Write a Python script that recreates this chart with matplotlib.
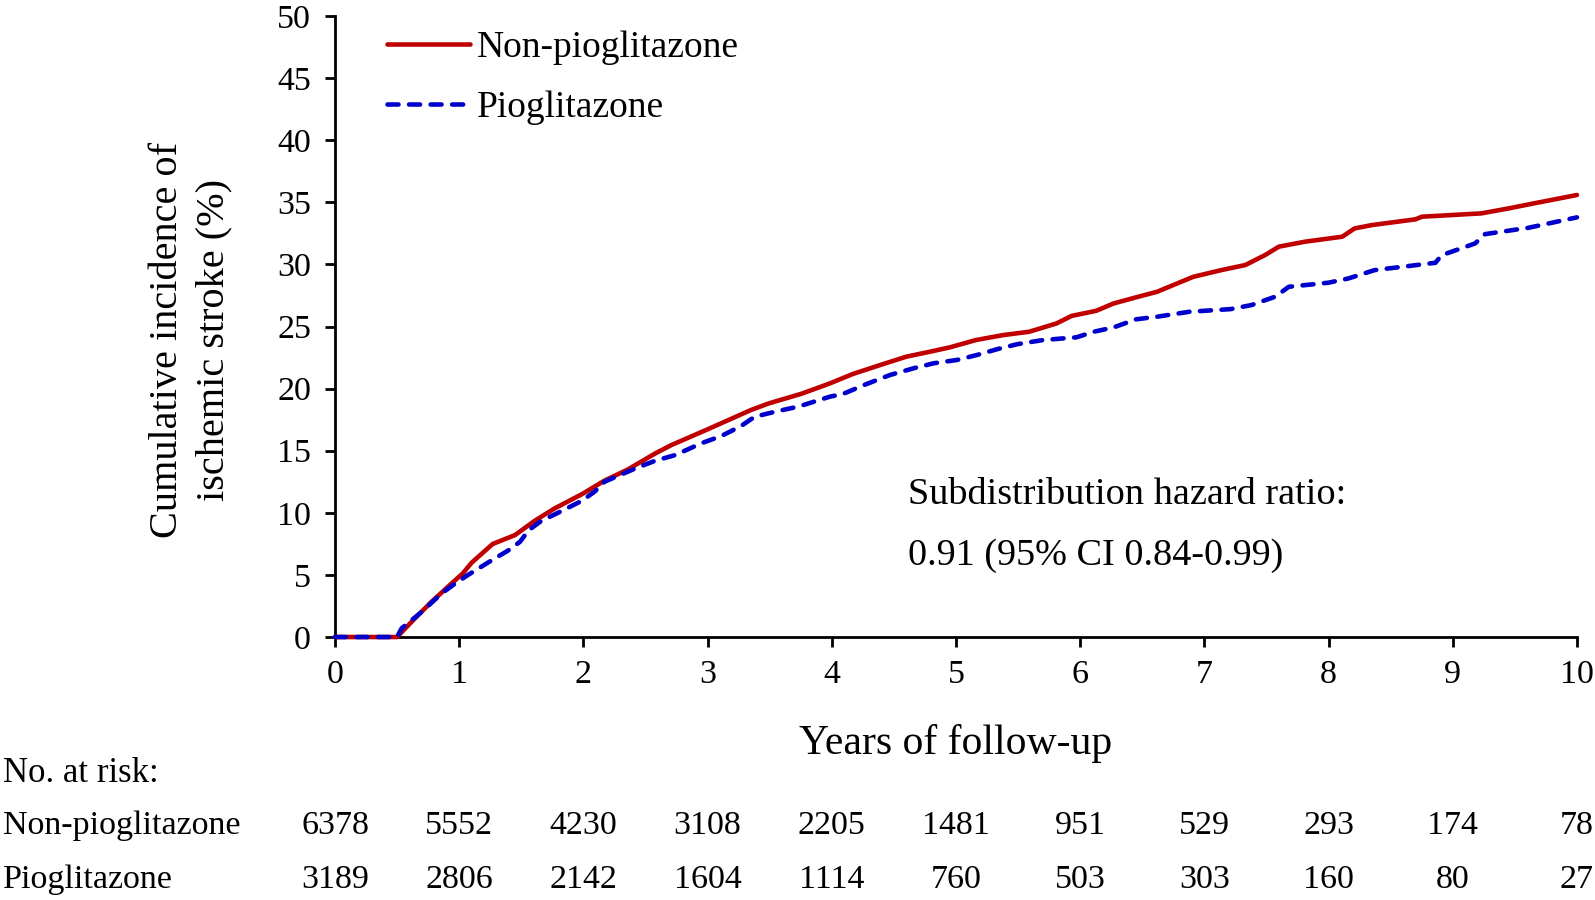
import matplotlib
matplotlib.use("Agg")
import matplotlib.pyplot as plt
import matplotlib.transforms as mtransforms

plt.rcParams['font.family'] = ['Liberation Serif', 'DejaVu Serif']

# ---- data ----
non_years = [0, 0.50, 0.644, 0.778, 0.94, 1.03, 1.10, 1.27, 1.45, 1.61, 1.77, 1.99, 2.17, 2.36,
             2.58, 2.71, 3.0, 3.35, 3.49, 3.76, 3.985, 4.17, 4.39, 4.60, 4.79, 4.95, 5.16, 5.38,
             5.59, 5.81, 5.93, 6.13, 6.27, 6.45, 6.62, 6.75, 6.91, 7.14, 7.33, 7.49, 7.60, 7.81,
             8.11, 8.21, 8.35, 8.70, 8.75, 9.23, 9.45, 9.61, 10.0]
non_cum = [0, 0, 1.5, 2.84, 4.32, 5.13, 5.98, 7.49, 8.21, 9.37, 10.36, 11.51, 12.59, 13.5,
           14.79, 15.46, 16.72, 18.28, 18.8, 19.6, 20.42, 21.18, 21.9, 22.57, 22.97, 23.32, 23.91,
           24.31, 24.58, 25.25, 25.85, 26.27, 26.86, 27.35, 27.8, 28.34, 29.0, 29.55, 29.95,
           30.76, 31.43, 31.83, 32.23, 32.9, 33.17, 33.63, 33.84, 34.11, 34.51, 34.83, 35.59]

pio_years = [0, 0.50, 0.537, 0.70, 0.86, 0.97, 1.07, 1.23, 1.40, 1.49, 1.56, 1.66, 1.83, 1.99,
             2.09, 2.17, 2.42, 2.58, 2.74, 2.95, 3.11, 3.27, 3.38, 3.57, 3.73, 3.985, 4.09, 4.28,
             4.47, 4.66, 4.82, 5.01, 5.17, 5.33, 5.49, 5.70, 5.97, 6.11, 6.27, 6.45, 6.62, 6.88,
             7.21, 7.38, 7.57, 7.68, 8.0, 8.16, 8.37, 8.86, 8.91, 9.18, 9.26, 9.61, 10.0]
pio_cum = [0, 0, 0.7, 2.04, 3.52, 4.32, 4.99, 5.98, 7.0, 7.67, 8.6, 9.34, 10.17, 10.98,
           11.7, 12.5, 13.58, 14.2, 14.65, 15.6, 16.18, 16.99, 17.74, 18.2, 18.55, 19.35, 19.57,
           20.37, 21.1, 21.64, 22.04, 22.31, 22.71, 23.17, 23.57, 23.91, 24.13, 24.58, 24.93,
           25.58, 25.79, 26.19, 26.4, 26.73, 27.4, 28.2, 28.53, 28.87, 29.54, 30.13, 30.74,
           31.69, 32.44, 32.95, 33.79]

risk_years = [0, 1, 2, 3, 4, 5, 6, 7, 8, 9, 10]
risk_non = [6378, 5552, 4230, 3108, 2205, 1481, 951, 529, 293, 174, 78]
risk_pio = [3189, 2806, 2142, 1604, 1114, 760, 503, 303, 160, 80, 27]

x_ticks = [0, 1, 2, 3, 4, 5, 6, 7, 8, 9, 10]
y_ticks = [0, 5, 10, 15, 20, 25, 30, 35, 40, 45, 50]

label_non = "Non-pioglitazone"
label_pio = "Pioglitazone"

# ---- figure ----
fig = plt.figure(figsize=(15.95, 9.0), dpi=100)
ax = fig.add_axes([0.2100, 0.2922, 0.7787, 0.6900])

red = '#C00000'
blue = '#0000CD'

ax.plot(non_years, non_cum, color=red, lw=3.3, solid_capstyle='round',
        solid_joinstyle='round', label=label_non, clip_on=False, zorder=3)
ax.plot(pio_years, pio_cum, color=blue, lw=3.3, dashes=(2.4, 2.3),
        dash_capstyle='round', dash_joinstyle='round', label=label_pio,
        clip_on=False, zorder=4)

ax.set_xlim(0, 10)
ax.set_ylim(0, 50)
ax.set_xticks(x_ticks)
ax.set_yticks(y_ticks)
ax.set_xticklabels([str(v) for v in x_ticks])
ax.set_yticklabels([str(v) for v in y_ticks])

for s in ['top', 'right']:
    ax.spines[s].set_visible(False)
for s in ['left', 'bottom']:
    ax.spines[s].set_linewidth(2.0)
    ax.spines[s].set_color('black')

ax.tick_params(axis='both', direction='out', length=7.2, width=2.0,
               labelsize=24.5, colors='black')
ax.tick_params(axis='y', pad=10)
ax.tick_params(axis='x', pad=9)

# axis labels
ax.set_ylabel("Cumulative incidence of\nischemic stroke (%)", fontsize=29,
              linespacing=1.32)
ax.yaxis.label.set_va('center')
ax.yaxis.label.set_ha('center')
ax.yaxis.set_label_coords(-0.116, 0.478)

ax.set_xlabel("Years of follow-up", fontsize=30)
ax.xaxis.label.set_va('center')
ax.xaxis.set_label_coords(0.5, -0.1707)

# legend
leg = ax.legend(loc='upper left', bbox_to_anchor=(0.042, 0.976), frameon=False,
                fontsize=27, handlelength=2.2, handletextpad=0.2,
                labelspacing=0.66, borderpad=0, borderaxespad=0)

# annotation
ax.text(0.4614, 0.2287, "Subdistribution hazard ratio:", transform=ax.transAxes,
        fontsize=27.5, ha='left', va='center')
ax.text(0.4614, 0.1310, "0.91 (95% CI 0.84-0.99)", transform=ax.transAxes,
        fontsize=27.5, ha='left', va='center')

# number at risk table
trans = mtransforms.blended_transform_factory(ax.transData, fig.transFigure)
fig.text(0.002, 1 - 773 / 900, "No. at risk:", fontsize=25, ha='left', va='center')
fig.text(0.002, 1 - 826 / 900, label_non, fontsize=24.5, ha='left', va='center')
fig.text(0.002, 1 - 880 / 900, label_pio, fontsize=24.5, ha='left', va='center')
for xv, n1, n2 in zip(risk_years, risk_non, risk_pio):
    ax.text(xv, 1 - 826 / 900, str(n1), transform=trans, fontsize=24.5,
            ha='center', va='center', clip_on=False)
    ax.text(xv, 1 - 880 / 900, str(n2), transform=trans, fontsize=24.5,
            ha='center', va='center', clip_on=False)

fig.savefig("out.png", dpi=100)
